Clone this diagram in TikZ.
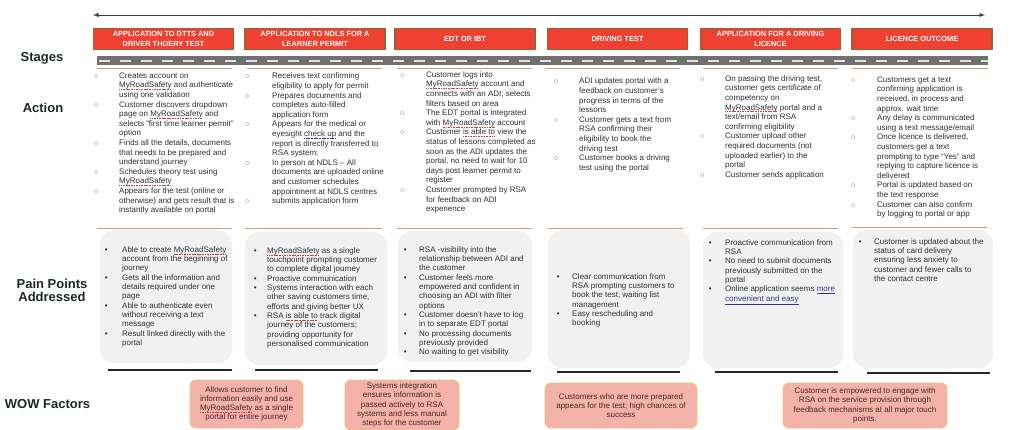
\documentclass[tikz,border=0pt]{standalone}
\usepackage{fontspec}
\setmainfont{Liberation Sans}
\usetikzlibrary{arrows,positioning}

\definecolor{stagered}{RGB}{240,64,50}
\definecolor{stagebrown}{RGB}{150,98,52}
\definecolor{labelgray}{RGB}{30,38,40}
\definecolor{txtgray}{RGB}{48,48,52}
\definecolor{bulgray}{RGB}{110,110,110}
\definecolor{paingray}{RGB}{241,241,242}
\definecolor{bardark}{RGB}{38,38,48}
\definecolor{rulebrown}{RGB}{196,156,126}
\definecolor{roadgray}{RGB}{112,112,112}
\definecolor{roaddash}{RGB}{225,225,225}
\definecolor{arrowgray}{RGB}{60,60,60}
\definecolor{wowpink}{RGB}{245,178,170}
\definecolor{wowedge}{RGB}{232,200,120}
\definecolor{wowtext}{RGB}{70,40,40}
\definecolor{squigred}{RGB}{210,60,60}
\definecolor{linkblue}{RGB}{50,50,160}

% spell-check marks
\newsavebox{\mkbox}
\newcommand{\markit}[2]{\leavevmode\sbox\mkbox{#2}\rlap{\usebox\mkbox}\hbox to \wd\mkbox{\color{#1}\xleaders\hbox{\rule[-1.9pt]{1.1pt}{0.6pt}\kern0.5pt}\hfill}}
\newcommand{\squig}{\markit{squigred}}
\newcommand{\gram}{\markit{linkblue}}
\newcommand{\ao}{\leavevmode\textcolor{bulgray}{$\circ$}}
\newcommand{\pb}{\leavevmode\textbullet}
\newcommand{\lst}[2]{\begin{tabular}[t]{@{}p{#1}@{}l@{}}#2\end{tabular}}

\begin{document}
\begin{tikzpicture}[x=1pt, y=-1pt,
    stagebox/.style={rectangle, draw=stagebrown, line width=1.5pt, fill=stagered, minimum width=140pt, minimum height=21pt, align=center, text=white, font=\fontsize{7.4}{9.6}\selectfont\bfseries, inner sep=0pt},
    rowlabel/.style={align=center, text=labelgray, font=\fontsize{13}{13.5}\selectfont\bfseries, inner sep=0pt},
    actlist/.style={anchor=base west, inner sep=0pt, text=txtgray, font=\fontsize{8}{9.6}\selectfont},
    paintext/.style={anchor=base west, inner sep=0pt, text=txtgray, font=\fontsize{8}{9.3}\selectfont},
    painbox/.style={rectangle, rounded corners=14pt, fill=paingray},
    wowbox/.style={rectangle, rounded corners=6pt, draw=wowedge, line width=0.8pt, fill=wowpink, align=center, text=wowtext, font=\fontsize{8}{9.2}\selectfont, inner sep=0pt},
    brownline/.style={draw=rulebrown, line width=0.9pt},
    underbar/.style={draw=bardark, line width=2.6pt},
    arrow/.style={latex-latex, draw=arrowgray, line width=0.9pt}
]
\fill[white] (0,0) rectangle (1024,430);
\useasboundingbox (0,0) rectangle (1024,430);

% Timeline
\coordinate (tl) at (93,15);
\coordinate (tr) at (985,15);
\draw[arrow] (tl) -- (tr);

% Row labels
\node[rowlabel] (lstages) at (42,58) {Stages};
\node[rowlabel] (laction) at (43,108) {Action};
\node[rowlabel] (lpain) at (52,290.5) {Pain Points\\Addressed};
\node[rowlabel] (lwow) at (47.5,404) {WOW Factors};

% Stages
\node[stagebox] (s1) at (163.5,39) {APPLICATION TO DTTS AND\\DRIVER THOERY TEST};
\node[stagebox, right=10pt of s1] (s2) {APPLICATION TO NDLS FOR A\\LEARNER PERMIT};
\node[stagebox, right=8.5pt of s2] (s3) {EDT OR IBT};
\node[stagebox, right=11pt of s3] (s4) {DRIVING TEST};
\node[stagebox, right=11.5pt of s4] (s5) {APPLICATION FOR A DRIVING\\LICENCE};
\node[stagebox, right=10pt of s5] (s6) {LICENCE OUTCOME};

% Road
\fill[roadgray] (97,56.5) rectangle (988,65.5);
\draw[roaddash, line width=1.3pt, dash pattern=on 11pt off 10pt] (99,61) -- (988,61);

% Action separators
\draw[brownline] (97,68) -- (232,68);  \draw[brownline] (97,228) -- (232,228);
\draw[brownline] (247,68) -- (382,68); \draw[brownline] (245,228) -- (382,228);
\draw[brownline] (397,68) -- (532,68); \draw[brownline] (397,228) -- (532,228);
\draw[brownline] (545,68) -- (680,68); \draw[brownline] (548,228) -- (683,228);
\draw[brownline] (703,68) -- (838,68); \draw[brownline] (703,228) -- (838,228);
\draw[brownline] (852,68) -- (988,68); \draw[brownline] (852,227) -- (987,227);

% Actions
\node[actlist] (a1) at (94,78.3) {\lst{25pt}{
\ao & Creates account on\\
 & \squig{MyRoadSafety} and authenticate\\
 & using one validation\\
\ao & Customer discovers dropdown\\
 & page on \squig{MyRoadSafety} and\\
 & selects "first time learner permit"\\
 & option\\
\ao & Finds all the details, documents\\
 & that needs to be prepared and\\
 & understand journey\\
\ao & Schedules theory test using\\
 & \squig{MyRoadSafety}\\
\ao & Appears for the test (online or\\
 & otherwise) and gets result that is\\
 & instantly available on portal}};

\node[actlist] (a2) at (245,79) {\lst{27pt}{
\ao & Receives text confirming\\
 & eligibility to apply for permit\\
\ao & Prepares documents and\\
 & completes auto-filled\\
 & application form\\
\ao & Appears for the medical or\\
 & eyesight \gram{check up} and the\\
 & report is directly transferred to\\
 & RSA system;\\
\ao & In person at NDLS – All\\
 & documents are uploaded online\\
 & and customer schedules\\
 & appointment at NDLS centres\\
\ao & submits application form}};

\node[actlist] (a3) at (400,77.3) {\lst{26pt}{
\ao & Customer logs into\\
 & \squig{MyRoadSafety} account and\\
 & connects with an ADI; selects\\
 & filters based on area\\
\ao & The EDT portal is integrated\\
 & with \squig{MyRoadSafety} account\\
\ao & Customer \squig{is able to} view the\\
 & status of lessons completed as\\
 & soon as the ADI updates the\\
 & portal, no need to wait for 10\\
 & days post learner permit to\\
 & register\\
\ao & Customer prompted by RSA\\
 & for feedback on ADI\\
 & experience}};

\node[actlist] (a4) at (554,84) {\lst{25pt}{
\ao & ADI updates portal with a\\
 & feedback on customer’s\\
 & progress in terms of the\\
 & lessons\\
\ao & Customer gets a text from\\
 & RSA confirming their\\
 & eligibility to book the\\
 & driving test\\
\ao & Customer books a driving\\
 & test using the portal}};

\node[actlist] (a5) at (700,81.3) {\lst{25pt}{
\ao & On passing the driving test,\\
 & customer gets certificate of\\
 & competency on\\
 & \squig{MyRoadSafety} portal and a\\
 & text/email from RSA\\
 & confirming eligibility\\
\ao & Customer upload other\\
 & required documents (not\\
 & uploaded earlier) to the\\
 & portal\\
\ao & Customer sends application}};

\node[actlist] (a6) at (851,82.3) {\lst{26pt}{
\ao & Customers get a text\\
 & confirming application is\\
 & received, in process and\\
 & approx. wait time\\
\ao & Any delay is communicated\\
 & using a text message/email\\
\ao & Once licence is delivered,\\
 & customers get a text\\
 & prompting to type “Yes” and\\
 & replying to capture licence is\\
 & delivered\\
\ao & Portal is updated based on\\
 & the text response\\
\ao & Customer can also confirm\\
 & by logging to portal or app}};

% Pain points boxes
\node[painbox, minimum width=132pt, minimum height=133pt] (p1) at (166,296.5) {};
\node[painbox, minimum width=142pt, minimum height=133pt] (p2) at (316,298.5) {};
\node[painbox, minimum width=134pt, minimum height=131pt] (p3) at (465,296.5) {};
\node[painbox, minimum width=142pt, minimum height=138pt] (p4) at (619,299) {};
\node[painbox, minimum width=140pt, minimum height=136pt] (p5) at (773,300) {};
\node[painbox, minimum width=140pt, minimum height=138pt] (p6) at (923,299) {};

\draw[underbar] (108,370) -- (232,370);
\draw[underbar] (255,370) -- (378,370);
\draw[underbar] (410,371) -- (531,371);
\draw[underbar] (557,372) -- (680,372);
\draw[underbar] (715,372) -- (838,372);
\draw[underbar] (867,373) -- (990,373);

% Pain points text
\node[paintext] (t1) at (104.6,252.3) {\lst{17.4pt}{
\pb & Able to create \squig{MyRoadSafety}\\
 & account from the beginning of\\
 & journey\\
\pb & Gets all the information and\\
 & details required under one\\
 & page\\
\pb & Able to authenticate even\\
 & without receiving a text\\
 & message\\
\pb & Result linked directly with the\\
 & portal}};

\node[paintext] (t2) at (253.6,253.3) {\lst{13.4pt}{
\pb & \squig{MyRoadSafety} as a single\\
 & touchpoint prompting customer\\
 & to complete digital journey\\
\pb & Proactive communication\\
\pb & Systems interaction with each\\
 & other saving customers time,\\
 & efforts and giving better UX\\
\pb & RSA \squig{is able to} track digital\\
 & journey of the customers;\\
 & providing opportunity for\\
 & personalised communication}};

\node[paintext] (t3) at (403.6,252.3) {\lst{15.4pt}{
\pb & RSA -visibility into the\\
 & relationship between ADI and\\
 & the customer\\
\pb & Customer feels more\\
 & empowered and confident in\\
 & choosing an ADI with filter\\
 & options\\
\pb & Customer doesn’t have to log\\
 & in to separate EDT portal\\
\pb & No processing documents\\
 & previously provided\\
\pb & No waiting to get visibility}};

\node[paintext] (t4) at (556.6,279.3) {\lst{15.4pt}{
\pb & Clear communication from\\
 & RSA prompting customers to\\
 & book the test; waiting list\\
 & management\\
\pb & Easy rescheduling and\\
 & booking}};

\node[paintext] (t5) at (708.6,245.3) {\lst{16.4pt}{
\pb & Proactive communication from\\
 & RSA\\
\pb & No need to submit documents\\
 & previously submitted on the\\
 & portal\\
\pb & Online application seems \textcolor{linkblue}{\underline{more}}\\
 & \textcolor{linkblue}{\underline{convenient and easy}}}};

\node[paintext] (t6) at (858.6,244.3) {\lst{15.4pt}{
\pb & Customer is updated about the\\
 & status of card delivery\\
 & ensuring less anxiety to\\
 & customer and fewer calls to\\
 & the contact centre}};

% WOW factors
\node[wowbox, minimum width=113pt, minimum height=48pt] (w1) at (246.5,404) {Allows customer to find\\information easily and use\\\squig{MyRoadSafety} as a single\\portal for entire journey};
\node[wowbox, minimum width=114pt, minimum height=50pt] (w2) at (402,405) {Systems integration\\ensures information is\\passed actively to RSA\\systems and less manual\\steps for the customer};
\node[wowbox, minimum width=152pt, minimum height=45pt] (w3) at (621,405.5) {Customers who are more prepared\\appears for the test; high chances of\\success};
\node[wowbox, minimum width=164pt, minimum height=45pt] (w4) at (865,405.5) {Customer is empowered to engage with\\RSA on the service provision through\\feedback mechanisms at all major touch\\points.};

\end{tikzpicture}
\end{document}
